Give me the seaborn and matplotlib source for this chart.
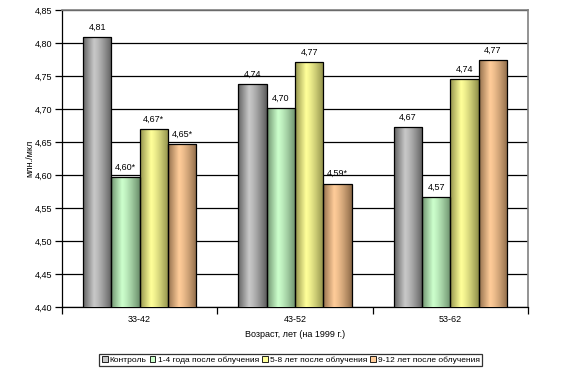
import numpy as np
import pandas as pd
import matplotlib
matplotlib.use("Agg")
import matplotlib.pyplot as plt
import seaborn as sns
from matplotlib.patches import Patch
from matplotlib.colors import to_rgb

ages = ["33-42", "43-52", "53-62"]
groups = ["Контроль", "1-4 года после облучения", "5-8 лет после облучения", "9-12 лет после облучения"]
control = [4.809, 4.738, 4.672]
g1_4 = [4.597, 4.702, 4.567]
g5_8 = [4.669, 4.771, 4.745]
g9_12 = [4.647, 4.587, 4.774]
labels_control = ["4,81", "4,74", "4,67"]
labels_g1_4 = ["4,60*", "4,70", "4,57"]
labels_g5_8 = ["4,67*", "4,77", "4,74"]
labels_g9_12 = ["4,65*", "4,59*", "4,77"]
yticks = [4.40, 4.45, 4.50, 4.55, 4.60, 4.65, 4.70, 4.75, 4.80, 4.85]

light = ["#c8c8c8", "#ccffcc", "#ffff99", "#ffcc99"]
dark = ["#4a4a4a", "#5a7a5a", "#7a7a3a", "#7a5a3a"]

series = [control, g1_4, g5_8, g9_12]
lab_series = [labels_control, labels_g1_4, labels_g5_8, labels_g9_12]
rows = []
for g, vals in zip(groups, series):
    for a, v in zip(ages, vals):
        rows.append({"age": a, "group": g, "value": v})
df = pd.DataFrame(rows)

plt.rcParams['font.family'] = ['Liberation Sans', 'DejaVu Sans']
fig = plt.figure(figsize=(5.67, 3.79), dpi=100)
ax = fig.add_axes([0.1093, 0.19, 0.8219, 0.7836])

sns.barplot(data=df, x="age", y="value", hue="group", order=ages, hue_order=groups,
            palette=light, width=0.73, gap=0, edgecolor="black", linewidth=0.9,
            errorbar=None, ax=ax, legend=False, zorder=3)
ax.set_ylim(4.40, 4.85)
ax.set_xlim(-0.5, 2.5)

# gradient fill
bars = [p for p in ax.patches]
for i, p in enumerate(bars):
    gi = i // 3
    L = np.array(to_rgb(light[gi])); D = np.array(to_rgb(dark[gi]))
    t = np.linspace(0, 1, 64)
    prof = np.where(t < 0.38, 0.2 + 0.8 * (t / 0.38), 1 - 0.85 * ((t - 0.38) / 0.62) ** 1.3)
    prof = np.clip(prof, 0, 1)
    cols = D[None, :] + (L - D)[None, :] * prof[:, None]
    img = cols[None, :, :]
    x0 = p.get_x()
    w, h = p.get_width(), p.get_height()
    im = ax.imshow(img, extent=[x0, x0 + w, 4.40, p.get_y() + h], aspect="auto",
                   zorder=3.5, interpolation="bilinear")
    im.set_clip_path(p)
    p.set_facecolor("none")
    p.set_zorder(4)

# value labels
for gi, labs in enumerate(lab_series):
    for ci, lab in enumerate(labs):
        p = bars[gi * 3 + ci]
        ax.text(p.get_x() + p.get_width() / 2, p.get_y() + p.get_height() + 0.008, lab,
                ha="center", va="bottom", fontsize=6.5, zorder=5)

ax.set_yticks(yticks)
ax.set_yticklabels([f"{v:.2f}".replace(".", ",") for v in yticks], fontsize=6.5)
ax.yaxis.grid(True, color="black", linewidth=0.9, zorder=0)
ax.set_axisbelow(True)
ax.tick_params(axis="y", length=5, width=0.9, color="black", pad=2)
ax.set_xticks([0, 1, 2])
ax.set_xticklabels(ages, fontsize=6.5)
ax.tick_params(axis="x", which="major", length=0, pad=6)
ax.set_xticks([-0.5, 0.5, 1.5, 2.5], minor=True)
ax.tick_params(axis="x", which="minor", length=5, width=0.9, color="black")
for s in ["left", "bottom"]:
    ax.spines[s].set_color("black"); ax.spines[s].set_linewidth(0.9)
for s in ["top", "right"]:
    ax.spines[s].set_color("#808080"); ax.spines[s].set_linewidth(1.2)

ax.set_xlabel("Возраст, лет (на 1999 г.)", fontsize=6.5, labelpad=4)
ax.set_ylabel("млн./мкл", fontsize=6.5, labelpad=0)

handles = [Patch(facecolor=c, edgecolor="black", linewidth=0.6) for c in light]
leg = fig.legend(handles, groups, loc="center", bbox_to_anchor=(0.513, 0.05), ncol=4,
                 fontsize=6.0, frameon=True, fancybox=False, handlelength=0.7,
                 handleheight=0.7, handletextpad=0.25, columnspacing=0.35,
                 borderpad=0.3, borderaxespad=0)
leg.get_frame().set_edgecolor("black")
leg.get_frame().set_linewidth(0.9)

fig.savefig("out.png", dpi=100)
